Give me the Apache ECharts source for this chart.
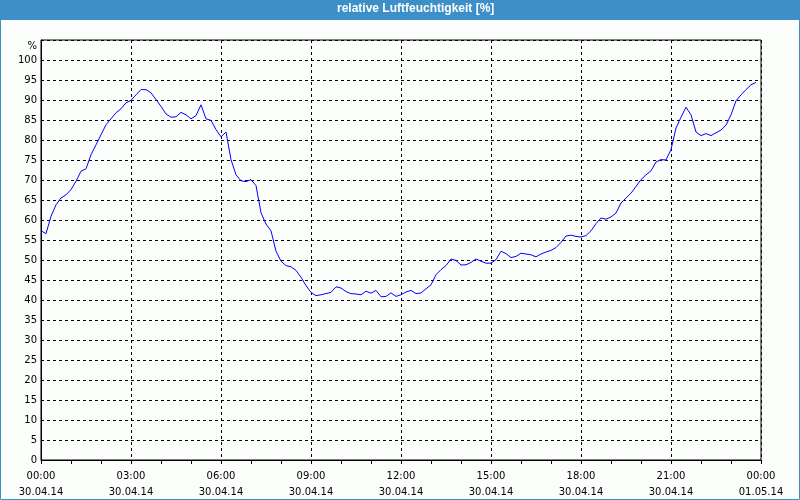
<!DOCTYPE html>
<html>
<head>
<meta charset="utf-8">
<script src="https://cdn.jsdelivr.net/npm/echarts@6/dist/echarts.min.js"></script>
<style>
html,body{margin:0;padding:0;background:#fcfefc;}
#c{width:800px;height:500px;}
</style>
</head>
<body>
<div id="c"></div>
<script>
// Relative humidity, 10-minute samples starting 30.04.14 00:00
var startMinute = 0;
var stepMinutes = 10;
var humidity = [
 57.3,56.6,60.9,63.8,65.5,66.3,67.6,69.7,72.2,72.8,
 76.3,78.8,81.3,83.8,85.3,86.8,87.8,89.3,89.9,91.3,
 92.6,92.6,91.8,90.1,88.4,86.5,85.7,85.8,86.9,86.3,
 85.3,86.1,88.8,85.3,84.9,82.6,80.8,82.0,75.1,71.3,
 69.8,69.6,70.1,68.6,61.8,59.0,57.3,52.2,49.7,48.6,
 48.3,47.4,45.7,43.6,41.9,41.1,41.3,41.6,41.9,43.3,
 43.0,42.1,41.6,41.5,41.3,42.2,41.7,42.4,40.8,40.9,
 41.8,40.9,41.3,42.0,42.4,41.6,41.75,42.8,43.8,46.3,
 47.6,48.6,50.25,49.9,48.75,48.8,49.4,50.25,49.7,49.2,
 49.2,50.1,52.2,51.6,50.6,50.9,51.7,51.5,51.3,50.8,
 51.5,52.0,52.4,53.1,54.4,56.0,56.2,55.9,55.75,56.1,
 57.3,59.1,60.5,60.2,60.75,61.75,64.25,65.5,66.7,68.4,
 70.1,71.3,72.3,74.5,75.1,75.0,77.6,83.0,85.7,88.2,
 86.3,82.0,81.1,81.6,81.1,81.8,82.5,83.7,86.3,89.8,
 91.3,92.6,93.8,94.4
];
var xTickMinutes = [0,180,360,540,720,900,1080,1260,1440];
var xTickTimes = ['00:00','03:00','06:00','09:00','12:00','15:00','18:00','21:00','00:00'];
var xTickDates = ['30.04.14','30.04.14','30.04.14','30.04.14','30.04.14','30.04.14','30.04.14','30.04.14','01.05.14'];
var yTickMax = 100;
var titleText = 'relative Luftfeuchtigkeit [%]';
var yUnit = '%';

var seriesData = humidity.map(function(v,i){ return [startMinute + i*stepMinutes, v]; });

var font = 'DejaVu Sans';
var chart = echarts.init(document.getElementById('c'), null, {renderer:'canvas'});
chart.setOption({
  backgroundColor:'#fcfefc',
  animation:false,
  graphic:[
    {type:'rect', shape:{x:0,y:0,width:800,height:20}, style:{fill:'#3d8fc8'}, z:0},
    {type:'rect', shape:{x:0.5,y:0.5,width:799,height:499}, style:{fill:null, stroke:'#3d8fc8', lineWidth:1}, z:0},
    {type:'text', left:337, top:3, style:{text:titleText, fill:'#ffffff', font:'bold 12px "Liberation Sans"'}, z:10}
  ],
  grid:{left:41, right:39, top:40, bottom:39, show:true, borderColor:'#000', borderWidth:1, backgroundColor:'transparent'},
  xAxis:{
    type:'value', min:0, max:1440, interval:180,
    axisLine:{show:true, lineStyle:{color:'#000', width:1}},
    axisTick:{show:true, length:4, lineStyle:{color:'#000'}},
    minorTick:{show:true, splitNumber:3, length:4, lineStyle:{color:'#000'}},
    splitLine:{show:true, lineStyle:{color:'#000', type:[3,3], width:1}},
    axisLabel:{
      margin:8, color:'#000', fontFamily:font, fontSize:10, lineHeight:16,
      formatter:function(v){ var i = xTickMinutes.indexOf(v); return i<0 ? '' : xTickTimes[i]+'\n'+xTickDates[i]; }
    }
  },
  yAxis:{
    type:'value', min:0, max:105, interval:5,
    name:yUnit, nameLocation:'end', nameGap:-6,
    nameTextStyle:{color:'#000', fontFamily:font, fontSize:10, align:'right', verticalAlign:'middle', padding:[0,4,0,0]},
    axisLine:{show:true, lineStyle:{color:'#000', width:1}},
    axisTick:{show:false},
    splitLine:{show:true, lineStyle:{color:'#000', type:[3,3], width:1}},
    axisLabel:{margin:4, color:'#000', fontFamily:font, fontSize:10,
      formatter:function(v){ return v > yTickMax ? '' : String(v); }}
  },
  series:[{
    type:'line', data:seriesData, showSymbol:false, symbol:'none',
    lineStyle:{color:'#0000ff', width:1}, itemStyle:{color:'#0000ff'}
  }]
});
</script>
</body>
</html>
